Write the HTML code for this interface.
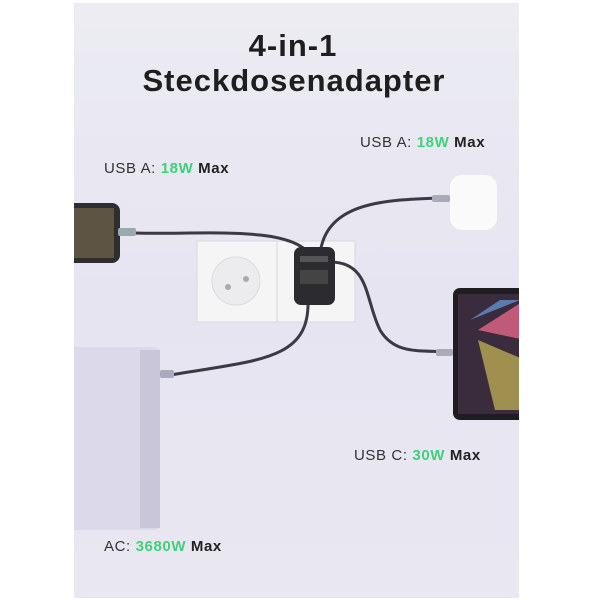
<!DOCTYPE html>
<html><head><style>
body{margin:0;width:600px;height:600px;background:#fff;overflow:hidden;font-family:"Liberation Sans",sans-serif}
.t{position:absolute;font-weight:bold;color:#1e1e1e;letter-spacing:1px}
.l{position:absolute;font-size:15px;color:#333;white-space:nowrap;letter-spacing:0.6px}
.l b{font-weight:bold;color:#222}.l i{font-style:normal;font-weight:bold;color:#3ed27a}
</style></head><body>
<div style="position:absolute;left:74px;top:3px;width:445px;height:595px;background:linear-gradient(180deg,#ececf2 0%,#e6e4f1 50%,#e9e8f1 100%)"></div>
<svg style="position:absolute;left:0;top:0" width="600" height="600">
<rect x="60" y="347" width="100" height="183" rx="6" fill="#dcdaea"/>
<rect x="140" y="350" width="20" height="178" fill="#c9c6da"/>
<rect x="197" y="241" width="158" height="81" fill="#f5f5f6" stroke="#d9d9e0"/>
<line x1="277" y1="241" x2="277" y2="322" stroke="#d8d8de"/>
<circle cx="236" cy="281" r="24" fill="#ececee" stroke="#dcdce0"/>
<circle cx="228" cy="287" r="3" fill="#aaa"/><circle cx="246" cy="279" r="3" fill="#aaa"/>
<g fill="none" stroke="#3a3a42" stroke-width="3">
<path d="M135 233 C200 235 290 225 310 255"/>
<path d="M320 255 C325 200 390 200 440 198"/>
<path d="M330 262 C370 262 365 300 380 330 C395 355 420 350 448 352"/>
<path d="M308 300 C310 360 260 360 170 375"/>
</g>
<rect x="294" y="247" width="41" height="58" rx="7" fill="#2b2b30"/>
<rect x="300" y="256" width="28" height="6" fill="#555"/><rect x="300" y="270" width="28" height="14" fill="#444"/>
<rect x="60" y="203" width="60" height="60" rx="8" fill="#2e2e30"/>
<rect x="74" y="208" width="40" height="50" fill="#5e5444"/>
<rect x="118" y="228" width="18" height="8" rx="2" fill="#9aa"/>
<rect x="450" y="175" width="47" height="55" rx="12" fill="#fafafa"/>
<rect x="432" y="195" width="18" height="7" rx="2" fill="#aab"/>
<rect x="453" y="288" width="80" height="132" rx="7" fill="#1f1d22"/>
<rect x="458" y="294" width="70" height="120" fill="#3a2c3c"/>
<polygon points="478,330 525,300 525,340" fill="#c05a7a"/>
<polygon points="478,340 525,360 525,410 495,410" fill="#a09050"/>
<polygon points="470,320 500,300 520,300" fill="#5a7ab0"/>
<rect x="436" y="349" width="17" height="7" rx="2" fill="#aab"/>
<rect x="160" y="370" width="14" height="8" rx="2" fill="#aab"/>
<rect x="0" y="0" width="74" height="600" fill="#fff"/>
<rect x="519" y="0" width="81" height="600" fill="#fff"/>
</svg>
<div class="t" style="left:0;width:586px;text-align:center;top:28px;font-size:31px">4-in-1</div>
<div class="t" style="left:0;width:588px;text-align:center;top:63px;font-size:31px;letter-spacing:1px">Steckdosenadapter</div>
<div class="l" style="left:104px;top:160px">USB A: <i>18W</i> <b>Max</b></div>
<div class="l" style="left:360px;top:134px">USB A: <i>18W</i> <b>Max</b></div>
<div class="l" style="left:354px;top:447px">USB C: <i>30W</i> <b>Max</b></div>
<div class="l" style="left:104px;top:538px">AC: <i>3680W</i> <b>Max</b></div>
</body></html>
